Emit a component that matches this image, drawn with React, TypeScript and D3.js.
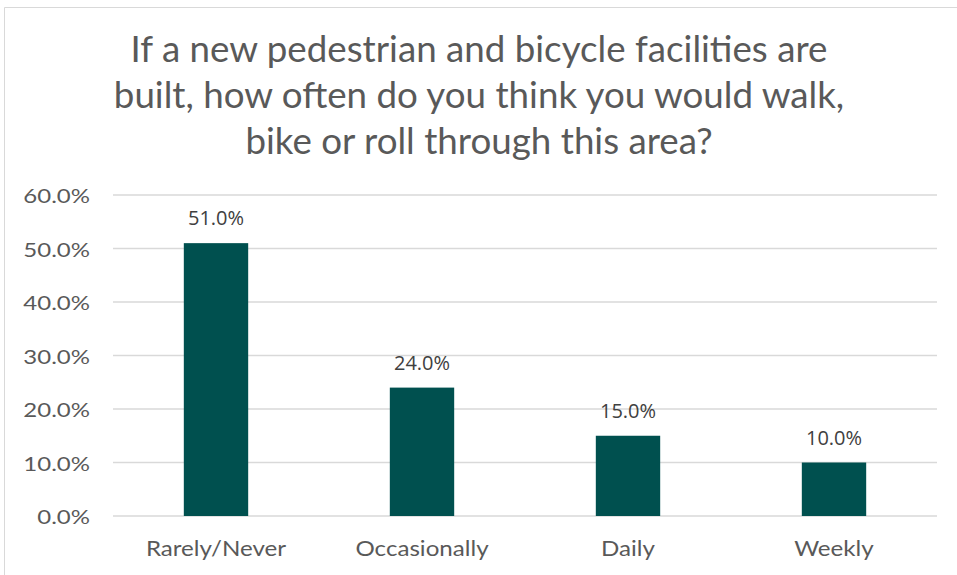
import React from "react";
import * as d3 from "d3";

const categories = ["Rarely/Never", "Occasionally", "Daily", "Weekly"];
const values = [51.0, 24.0, 15.0, 10.0];
const yTicks = [0, 10, 20, 30, 40, 50, 60];
const titleLines = [
  "If a new pedestrian and bicycle facilities are",
  "built, how often do you think you would walk,",
  "bike or roll through this area?",
];

function SText(props: { x: number; y: number; sx: number; anchor: string; size: number; family: string; fill: string; children: React.ReactNode }) {
  const { x, y, sx, anchor, size, family, fill, children } = props;
  return (
    <text
      transform={`translate(${x},${y}) scale(${sx},1)`}
      textAnchor={anchor}
      fontFamily={family}
      fontSize={size}
      fill={fill}
    >
      {children}
    </text>
  );
}

export default function App() {
  const W = 957, H = 575;
  const left = 113, right = 937, top = 195, bottom = 516;
  const x = d3.scaleBand<string>().domain(categories).range([left, right]).paddingInner(0.6875).paddingOuter(0.34375);
  const y = d3.scaleLinear().domain([0, 60]).range([bottom, top]);
  return (
    <svg width={W} height={H} style={{ position: "absolute", left: 0, top: 0, background: "#fff" }}>
      <rect x={0} y={0} width={W} height={H} fill="#fff" />
      <line x1={4.5} y1={7.5} x2={W} y2={7.5} stroke="#D9D9D9" strokeWidth={1} />
      <line x1={4.5} y1={7.5} x2={4.5} y2={H} stroke="#D9D9D9" strokeWidth={1} />
      {titleLines.map((t, i) => (
        <SText key={i} x={479} y={62 + i * 46} sx={1.02} anchor="middle" family="Lato" size={36} fill="#595959">{t}</SText>
      ))}
      {yTicks.map((t) => (
        <g key={t}>
          <line x1={left} x2={right} y1={y(t)} y2={y(t)} stroke="#D9D9D9" strokeWidth={1.3} />
          <SText x={90} y={y(t) + 8} sx={1.2} anchor="end" family="Lato" size={20} fill="#595959">{t.toFixed(1)}%</SText>
        </g>
      ))}
      {categories.map((c, i) => (
        <g key={c}>
          <rect x={x(c)} y={y(values[i])} width={x.bandwidth()} height={y(0) - y(values[i])} fill="#00504F" />
          <SText x={(x(c) as number) + x.bandwidth() / 2} y={y(values[i]) - 18} sx={1} anchor="middle" family="Open Sans" size={20} fill="#404040">{values[i].toFixed(1)}%</SText>
          <SText x={(x(c) as number) + x.bandwidth() / 2} y={556} sx={1.15} anchor="middle" family="Lato" size={21} fill="#595959">{c}</SText>
        </g>
      ))}
    </svg>
  );
}
